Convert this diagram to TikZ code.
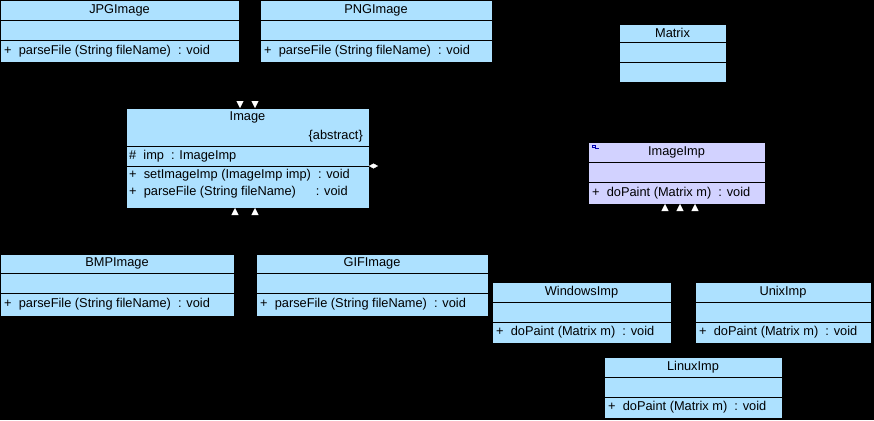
\documentclass[tikz,border=0pt]{standalone}
\usepackage{fontspec}
\setmainfont{Liberation Sans}
\usetikzlibrary{arrows.meta}
\definecolor{classblue}{RGB}{173,225,255}
\definecolor{implilac}{RGB}{210,210,255}
\begin{document}
\begin{tikzpicture}[
        x=1pt, y=-1pt,
        part/.style = {
            draw=black,
            fill=#1,
            anchor=north west,
            inner sep = 0pt,
            outer sep = 0pt
        },
        part/.default = classblue,
        txt/.style = {font=\fontsize{12.8}{17}\selectfont, inner sep=0pt},
        gen/.style = {black, -{Triangle[width=7pt,length=7pt,fill=white,color=white]}},
        agg/.style = {black, -{Diamond[width=5pt,length=9pt,fill=white,color=white]}}
        ]
        \fill[black] (0,0) rectangle (874,420);
        \useasboundingbox (0,0) rectangle (874,420);
%
% class box: name, x, y, width, header, attributes, operations heights
        \newcommand{\umlbox}[8][classblue]{%
            \node[part=#1, minimum width=#5pt, minimum height=#6pt] (#2) at (#3,#4) {};
            \node[part=#1, minimum width=#5pt, minimum height=#7pt] (#2-a) at (#2.south west) {};
            \node[part=#1, minimum width=#5pt, minimum height=#8pt] (#2-o) at (#2-a.south west) {};
        }
%
        \umlbox{jpg}{0}{0}{239}{20}{20}{22}
        \umlbox{png}{260}{0}{232}{20}{20}{22}
        \umlbox{matrix}{619}{24}{107}{18}{20}{20}
        \umlbox{image}{126}{108}{243}{38}{20}{42}
        \umlbox[implilac]{imp}{588}{142}{177}{20}{20}{22}
        \umlbox{bmp}{0}{254}{234}{19}{20}{23}
        \umlbox{gif}{256}{254}{232}{19}{20}{23}
        \umlbox{win}{492}{282}{179}{20}{20}{21}
        \umlbox{unix}{695}{282}{176}{20}{20}{21}
        \umlbox{linux}{604}{357}{178}{20}{20}{21}
%
        \node[txt] at (jpg) {JPGImage};
        \node[txt, anchor=west] at ([xshift=4pt]jpg-o.west) {+\ \ parseFile (String fileName)\ \ : void};
        \node[txt] at (png) {PNGImage};
        \node[txt, anchor=west] at ([xshift=4pt]png-o.west) {+\ \ parseFile (String fileName)\ \ : void};
        \node[txt] at (matrix) {Matrix};
        \node[txt] at ([yshift=-9pt]image.north) {Image};
        \node[txt, anchor=east] at ([xshift=-6pt,yshift=10pt]image.south east) {\{abstract\}};
        \node[txt, anchor=west] at ([xshift=3pt]image-a.west) {\#\ \ imp\ \ : ImageImp};
        \node[txt, anchor=north west, align=left] at ([xshift=3pt,yshift=-3pt]image-o.north west)
            {+\ \ setImageImp (ImageImp imp)\ \ : void\\+\ \ parseFile (String fileName)\quad\ \ : void};
        \node[txt] at (imp) {ImageImp};
        \draw[blue!70!black, line width=0.8pt] ([xshift=4pt,yshift=-5pt]imp.north west) rectangle +(3,-2)
            ([xshift=7pt,yshift=-6pt]imp.north west) -- +(4,0);
        \node[txt, anchor=west] at ([xshift=4pt]imp-o.west) {+\ \ doPaint (Matrix m)\ \ : void};
        \node[txt] at (bmp) {BMPImage};
        \node[txt, anchor=west] at ([xshift=4pt]bmp-o.west) {+\ \ parseFile (String fileName)\ \ : void};
        \node[txt] at (gif) {GIFImage};
        \node[txt, anchor=west] at ([xshift=4pt]gif-o.west) {+\ \ parseFile (String fileName)\ \ : void};
        \node[txt] at (win) {WindowsImp};
        \node[txt, anchor=west] at ([xshift=4pt]win-o.west) {+\ \ doPaint (Matrix m)\ \ : void};
        \node[txt] at (unix) {UnixImp};
        \node[txt, anchor=west] at ([xshift=4pt]unix-o.west) {+\ \ doPaint (Matrix m)\ \ : void};
        \node[txt] at (linux) {LinuxImp};
        \node[txt, anchor=west] at ([xshift=4pt]linux-o.west) {+\ \ doPaint (Matrix m)\ \ : void};
%
        \coordinate (i1) at (240,108);
        \coordinate (i2) at (255,108);
        \coordinate (i3) at (235,208);
        \coordinate (i4) at (255,208);
        \coordinate (m1) at (665,204);
        \coordinate (m2) at (680,204);
        \coordinate (m3) at (695,204);
        \coordinate (ia) at (369,166);
%
        \draw[gen] (jpg-o.south) |- (240,80) -- (i1);
        \draw[gen] (png-o.south) |- (255,80) -- (i2);
        \draw[gen] (bmp.north) |- (235,230) -- (i3);
        \draw[gen] (gif.north) |- (255,230) -- (i4);
        \draw[gen] (win.north) |- (665,240) -- (m1);
        \draw[gen] (unix.north) |- (680,250) -- (m2);
        \draw[gen] (linux.north) |- (695,350) -- (m3);
        \draw[agg] (imp-a.west) -| (480,166) -- (ia);
\end{tikzpicture}
\end{document}
